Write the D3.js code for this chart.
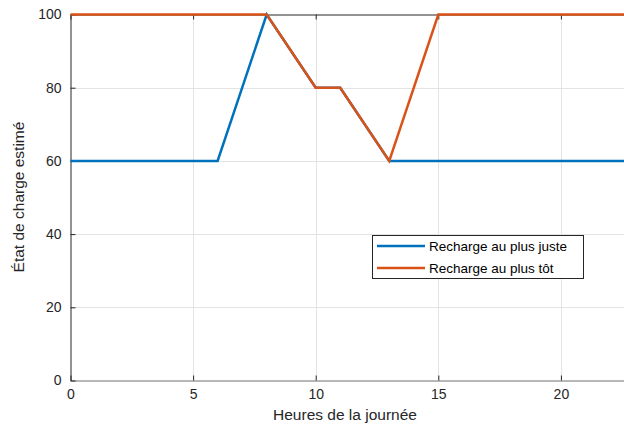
<!DOCTYPE html>
<html><head><meta charset="utf-8">
<script src="https://cdn.jsdelivr.net/npm/d3@7"></script>
<style>body{margin:0;background:#fff}svg{display:block}text{font-family:"Liberation Sans",Arial,sans-serif}</style>
</head><body>
<svg id="c" width="624" height="429"></svg>
<script>
const hours = [0, 6, 8, 10, 11, 13, 15, 24];
const justeValues = [60, 60, 100, 80, 80, 60, 60, 60];
const totValues = [100, 100, 100, 80, 80, 60, 100, 100];
const xTicks = [0, 5, 10, 15, 20];
const yTicks = [0, 20, 40, 60, 80, 100];
const seriesNames = ["Recharge au plus juste", "Recharge au plus tôt"];
const colors = ["#0072BD", "#D95319"];

const svg = d3.select("#c");
const L = 70.5, T = 14.5, B = 380.5;
const x = d3.scaleLinear().domain([0, 24]).range([L, L + 24 * 24.52]);
const y = d3.scaleLinear().domain([0, 100]).range([B, T]);
const R = x(24);

// grid
svg.append("g").selectAll("line").data(xTicks.slice(1)).join("line")
  .attr("x1", d => Math.round(x(d)) + 0.5).attr("x2", d => Math.round(x(d)) + 0.5)
  .attr("y1", T).attr("y2", B).attr("stroke", "#e3e3e3");
svg.append("g").selectAll("line").data(yTicks.slice(1, -1)).join("line")
  .attr("y1", d => Math.round(y(d)) + 0.5).attr("y2", d => Math.round(y(d)) + 0.5)
  .attr("x1", L).attr("x2", R).attr("stroke", "#e3e3e3");

// axes
const ax = svg.append("g").attr("transform", `translate(0,${B})`)
  .call(d3.axisBottom(x).tickValues(xTicks).tickSizeInner(-5).tickSizeOuter(0).tickPadding(9));
const ay = svg.append("g").attr("transform", `translate(${L},0)`)
  .call(d3.axisLeft(y).tickValues(yTicks).tickSizeInner(-5).tickSizeOuter(0).tickPadding(9));
const at = svg.append("g").attr("transform", `translate(0,${T})`)
  .call(d3.axisTop(x).tickValues(xTicks).tickSizeInner(-5).tickSizeOuter(0).tickFormat(""));
[ax, ay, at].forEach(g => {
  g.selectAll("path").attr("stroke", "#262626");
  g.selectAll("line").attr("stroke", "#262626");
  g.selectAll("text").attr("fill", "#262626").attr("font-size", 14);
});
ax.selectAll("path").attr("stroke", "#6e6e6e");

// lines
const line = d3.line().x((d, i) => x(hours[i])).y(d => y(d));
[justeValues, totValues].forEach((vals, k) => {
  svg.append("path").attr("d", line(vals)).attr("fill", "none")
    .attr("stroke", colors[k]).attr("stroke-width", 2.5).attr("stroke-linejoin", "miter");
});

// labels
svg.append("text").attr("x", 345).attr("y", 420).attr("text-anchor", "middle")
  .attr("font-size", 15.5).attr("fill", "#262626").text("Heures de la journée");
svg.append("text").attr("transform", "translate(24,197) rotate(-90)").attr("text-anchor", "middle")
  .attr("font-size", 15.5).attr("fill", "#262626").text("État de charge estimé");

// legend
const lg = svg.append("g");
lg.append("rect").attr("x", 372.5).attr("y", 235.5).attr("width", 211).attr("height", 43)
  .attr("fill", "#fff").attr("stroke", "#262626").attr("stroke-width", 1);
seriesNames.forEach((n, i) => {
  const yy = 246 + i * 22;
  lg.append("line").attr("x1", 377).attr("x2", 425).attr("y1", yy).attr("y2", yy)
    .attr("stroke", colors[i]).attr("stroke-width", 2.5);
  lg.append("text").attr("x", 429).attr("y", yy + 4.5).attr("font-size", 13.5)
    .attr("fill", "#000").text(n);
});
</script>
</body></html>
